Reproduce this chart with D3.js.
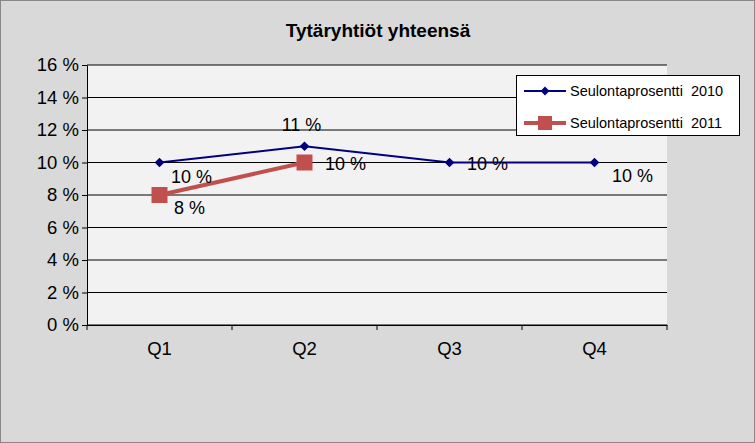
<!DOCTYPE html><html><head><meta charset="utf-8"><script src="https://cdn.jsdelivr.net/npm/d3@7"></script>
<style>body{margin:0;background:#fff}text{font-family:"Liberation Sans",Arial,sans-serif}</style></head><body><svg width="755" height="443"></svg>
<script>
const categories=["Q1","Q2","Q3","Q4"];
const s2010=[10,11,10,10];
const s2011=[8,10];
const yTicks=[0,2,4,6,8,10,12,14,16];
const names=["Seulontaprosentti  2010","Seulontaprosentti  2011"];
const svg=d3.select("svg");
svg.append("rect").attr("x",0.5).attr("y",0.5).attr("width",754).attr("height",442).attr("fill","#d9d9d9").attr("stroke","#888");
svg.append("text").attr("x",378).attr("y",37).attr("text-anchor","middle").attr("font-weight","bold").attr("font-size",19).text("Tytäryhtiöt yhteensä");
const x=d3.scaleBand().domain(categories).range([87,667]);
const y=d3.scaleLinear().domain([0,16]).range([325,65]);
svg.append("rect").attr("x",87).attr("y",65).attr("width",580).attr("height",260).attr("fill","#f2f2f2");
svg.append("g").selectAll("line").data(yTicks).join("line").attr("x1",87).attr("x2",667).attr("y1",d=>y(d)).attr("y2",d=>y(d)).attr("stroke","#000");
const ya=svg.append("g").attr("transform","translate(87,0)").call(d3.axisLeft(y).tickValues(yTicks).tickSize(5).tickFormat(d=>d+" %"));
ya.selectAll("text").attr("font-size",18.5).attr("fill","#000").attr("font-family","Liberation Sans,Arial");
ya.select(".domain").attr("stroke","#000");
const xa=svg.append("g").attr("transform","translate(0,325)").call(d3.axisBottom(x).tickSize(0).tickPadding(17));
xa.selectAll("text").attr("font-size",18.5).attr("fill","#000").attr("font-family","Liberation Sans,Arial");
xa.select(".domain").attr("stroke","#000");
xa.selectAll(".b").data(d3.range(5)).join("line").attr("x1",d=>87+d*145).attr("x2",d=>87+d*145).attr("y1",0).attr("y2",5).attr("stroke","#000");
const cx=c=>x(c)+x.bandwidth()/2;
const line=d3.line().x((d,i)=>cx(categories[i])).y(d=>y(d));
svg.append("path").attr("d",line(s2010)).attr("fill","none").attr("stroke","#000080").attr("stroke-width",2);
svg.append("path").attr("d",line(s2011)).attr("fill","none").attr("stroke","#c0504d").attr("stroke-width",4);
svg.selectAll(".d").data(s2010).join("path").attr("transform",(d,i)=>`translate(${cx(categories[i])},${y(d)})`).attr("d",d3.symbol(d3.symbolDiamond2,60)).attr("fill","#000080");
svg.selectAll(".s").data(s2011).join("rect").attr("x",(d,i)=>cx(categories[i])-8).attr("y",d=>y(d)-8).attr("width",16).attr("height",16).attr("fill","#c0504d");
const off2010=[[32,20],[-3,-15],[38,7],[38,19]];
svg.selectAll(".l1").data(s2010).join("text").attr("x",(d,i)=>cx(categories[i])+off2010[i][0]).attr("y",(d,i)=>y(d)+off2010[i][1]).attr("text-anchor","middle").attr("font-size",18).text(d=>d+" %");
const off2011=[[30,19],[41,7]];
svg.selectAll(".l2").data(s2011).join("text").attr("x",(d,i)=>cx(categories[i])+off2011[i][0]).attr("y",(d,i)=>y(d)+off2011[i][1]).attr("text-anchor","middle").attr("font-size",18).text(d=>d+" %");
const lg=svg.append("g");
lg.append("rect").attr("x",516.5).attr("y",75.5).attr("width",223).attr("height",60).attr("fill","#fff").attr("stroke","#000");
lg.append("line").attr("x1",524).attr("x2",566).attr("y1",91).attr("y2",91).attr("stroke","#000080").attr("stroke-width",2);
lg.append("path").attr("transform","translate(545,91)").attr("d",d3.symbol(d3.symbolDiamond2,50)).attr("fill","#000080");
lg.append("line").attr("x1",524).attr("x2",566).attr("y1",123).attr("y2",123).attr("stroke","#c0504d").attr("stroke-width",4);
lg.append("rect").attr("x",538).attr("y",116).attr("width",14).attr("height",14).attr("fill","#c0504d");
lg.selectAll(".n").data(names).join("text").attr("x",570).attr("y",(d,i)=>96+i*32).attr("font-size",14.5).style("white-space","pre").text(d=>d);
</script></body></html>
